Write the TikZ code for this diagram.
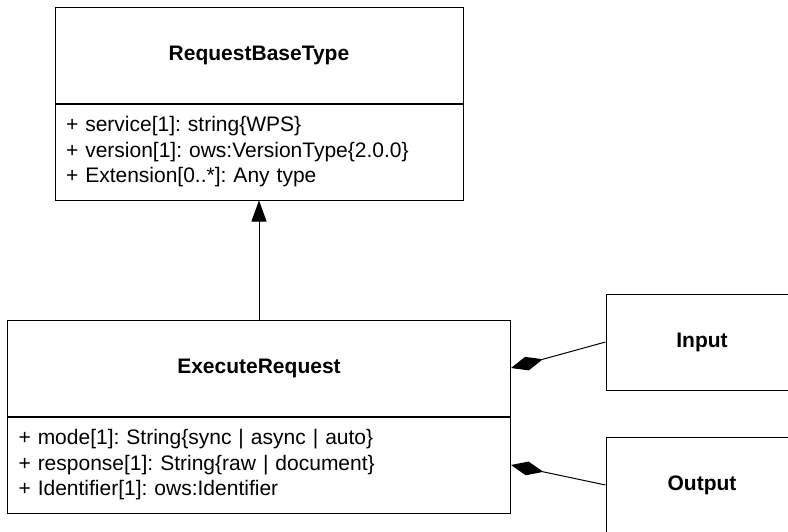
\documentclass[tikz,border=0pt]{standalone}
\usepackage{fontspec}
\setmainfont{Liberation Sans}
\frenchspacing
\usetikzlibrary{positioning,arrows.meta}
\tikzset{
  umltitle/.style = {draw, line width=1pt, minimum height=96pt,
    font=\fontsize{21}{25.5}\selectfont\bfseries},
  umlattr/.style = {draw, line width=1pt, minimum height=96pt, inner xsep=11pt,
    align=left, font=\fontsize{21}{25.5}\selectfont\frenchspacing},
  link/.style = {line width=1pt}
}
\begin{document}
\begin{tikzpicture}[x=1pt, y=1pt, every node/.style = {inner sep=0pt}]
    \clip (0,0) rectangle (788,-531);
    \node[umltitle, minimum width=408pt] (rbt) at (259,-55) {RequestBaseType};
    \node[umlattr, text width=386pt] (rbtattr) [below = 0pt of rbt]
        {+ service[1]: string\{WPS\}\\+ version[1]: ows:VersionType\{2.0.0\}\\+ Extension[0..*]: Any type};
    \node[umltitle, minimum width=503pt] (er) [below = 119pt of rbtattr] {ExecuteRequest};
    \node[umlattr, text width=481pt] (erattr) [below = 0pt of er]
        {+ mode[1]: String\{sync | async | auto\}\\+ response[1]: String\{raw | document\}\\+ Identifier[1]: ows:Identifier};
    \node[umltitle, minimum width=192pt] (input) at (702,-342) {Input};
    \node[umltitle, minimum width=192pt] (output) at (702,-485) {Output};
    \draw[link, -{Triangle[length=21pt,width=15pt]}] (er.north) -- (rbtattr.south);
    \draw[link, {Diamond[length=33pt,width=14pt]}-] (er.east) -- (input.west);
    \draw[link, {Diamond[length=33pt,width=14pt]}-] (erattr.east) -- (output.west);
\end{tikzpicture}
\end{document}
